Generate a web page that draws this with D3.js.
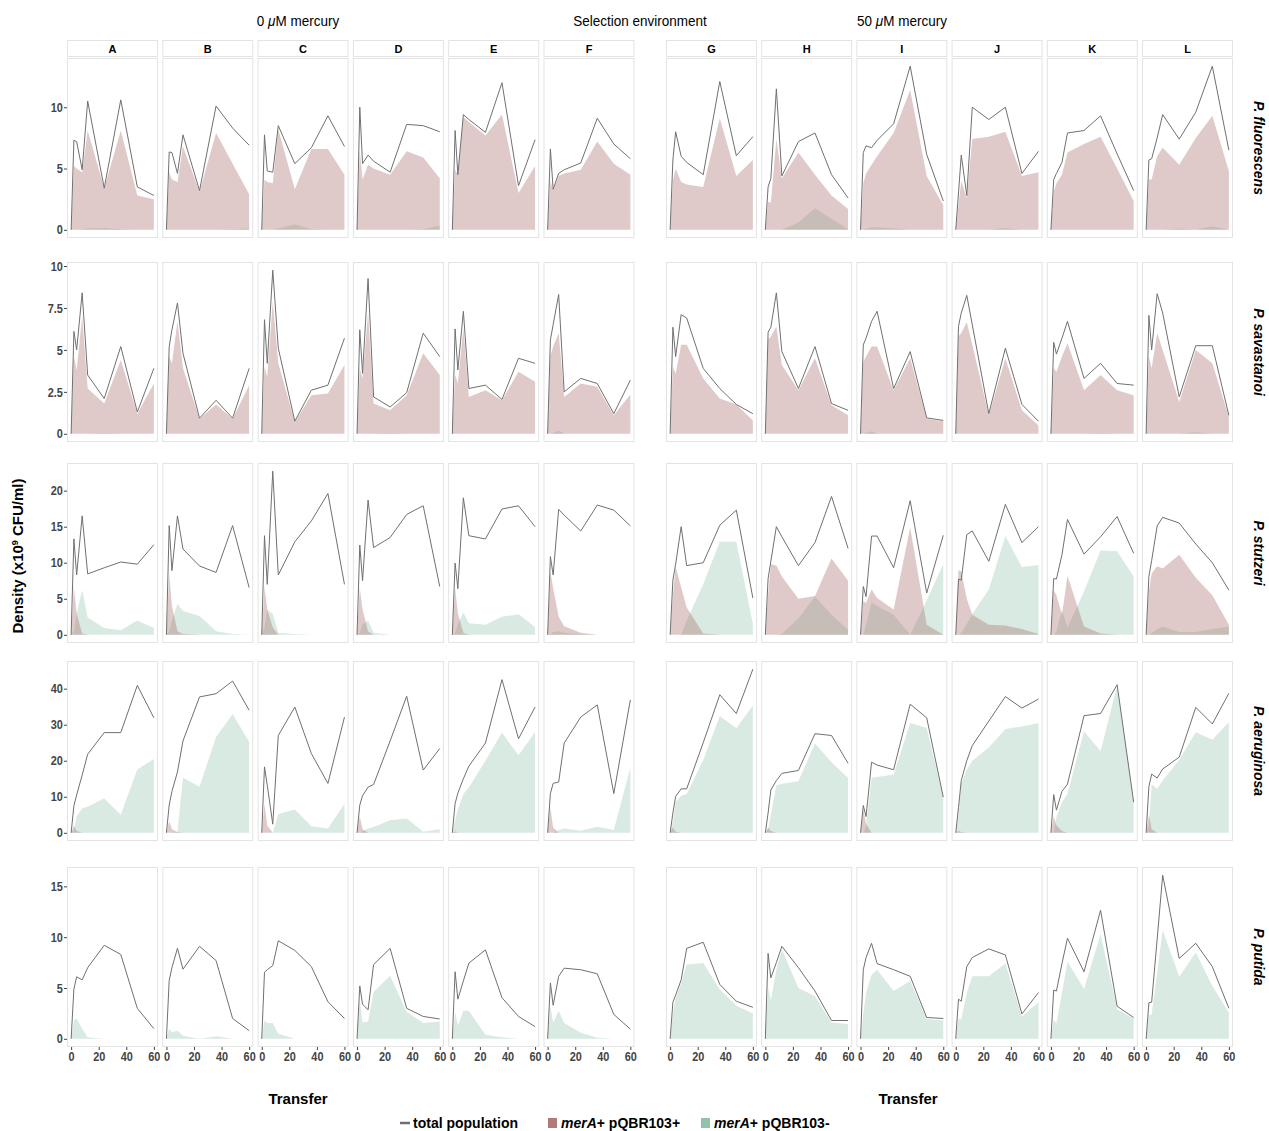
<!DOCTYPE html>
<html>
<head>
<meta charset="utf-8">
<script src="https://cdn.jsdelivr.net/npm/d3@7"></script>
<style>
  body { margin: 0; background: #fff; }
  svg text { font-family: "Liberation Sans", Arial, sans-serif; }
</style>
</head>
<body>
<svg id="chart" width="1269" height="1131"></svg>
<script>
// transfers sampled, same for every panel
const transfers = [0, 2, 4, 8, 12, 24, 36, 48, 60]
const lineIds = ['A', 'B', 'C', 'D', 'E', 'F', 'G', 'H', 'I', 'J', 'K', 'L']
const speciesNames = ['P. fluorescens', 'P. savastanoi', 'P. stutzeri', 'P. aeruginosa', 'P. putida']
const xTickValues = [0, 20, 40, 60]
const yTickValues = [[0, 5, 10], [0, 2.5, 5, 7.5, 10], [0, 5, 10, 15, 20], [0, 10, 20, 30, 40], [0, 5, 10, 15]]

// P. fluorescens
const fluTotal = [
  [0, 7.3, 7.2, 4.9, 10.5, 3.4, 10.6, 3.5, 2.8],
  [0, 6.35, 6.3, 4.6, 7.75, 3.2, 10.1, 8.3, 6.9],
  [0, 7.75, 4.8, 4.7, 8.5, 5.4, 6.7, 9.3, 6.8],
  [0, 10.0, 5.4, 6.1, 5.6, 4.7, 8.6, 8.5, 8.0],
  [0, 8.1, 4.5, 9.4, 9.0, 7.95, 12.0, 3.6, 7.35],
  [0, 6.6, 3.3, 4.6, 4.9, 5.45, 9.1, 7.0, 5.8],
  [0, 5.7, 8.0, 6.0, 5.5, 4.5, 12.1, 6.05, 7.6],
  [0, 3.5, 4.2, 11.5, 4.4, 7.2, 7.9, 4.5, 2.6],
  [0, 6.3, 6.85, 6.7, 7.3, 8.65, 13.35, 6.15, 2.35],
  [0, 3.0, 6.1, 2.8, 10.0, 9.0, 10.0, 4.6, 6.4],
  [0, 4.1, 4.6, 5.5, 7.9, 8.1, 9.3, 6.2, 3.2],
  [0, 5.7, 5.8, 7.5, 9.4, 7.4, 9.6, 13.35, 6.5]
]
const fluPlus = [
  [0, 5.2, 5.0, 4.7, 8.1, 3.4, 8.1, 2.8, 2.5],
  [0, 4.7, 4.1, 3.9, 6.8, 3.1, 7.9, 5.4, 2.9],
  [0, 4.1, 3.9, 3.8, 8.2, 3.3, 6.6, 6.6, 4.5],
  [0, 6.5, 4.1, 5.3, 5.0, 4.5, 6.4, 5.9, 4.2],
  [0, 4.9, 4.5, 9.2, 8.8, 7.7, 9.4, 3.0, 5.2],
  [0, 4.0, 3.2, 4.4, 4.6, 4.9, 7.2, 5.4, 4.5],
  [0, 4.0, 5.0, 3.9, 3.7, 3.5, 9.1, 4.4, 5.7],
  [0, 2.3, 2.2, 7.4, 4.2, 6.3, 4.5, 2.8, 1.7],
  [0, 3.8, 4.6, 5.3, 6.0, 7.9, 11.4, 4.4, 2.0],
  [0, 2.0, 4.0, 2.6, 7.4, 7.6, 8.0, 4.4, 4.7],
  [0, 3.1, 3.8, 4.5, 6.3, 7.0, 7.6, 5.0, 2.35],
  [0, 4.1, 4.1, 6.0, 6.7, 5.3, 7.5, 9.3, 4.8]
]
const fluMinus = [
  [0, 0, 0, 0.05, 0.1, 0.15, 0.05, 0, 0],
  [0, 0, 0, 0, 0, 0, 0, 0.05, 0.1],
  [0, 0, 0, 0, 0.1, 0.45, 0.05, 0, 0],
  [0, 0, 0, 0, 0, 0, 0, 0.05, 0.35],
  [0, 0, 0, 0, 0, 0, 0, 0, 0],
  [0, 0, 0, 0, 0, 0, 0, 0, 0],
  [0, 0, 0, 0, 0, 0, 0, 0, 0],
  [0, 0, 0, 0, 0, 0.6, 1.75, 0.9, 0.05],
  [0, 0, 0.1, 0.2, 0.2, 0.1, 0, 0, 0],
  [0, 0, 0, 0, 0, 0, 0.15, 0, 0],
  [0, 0, 0, 0, 0, 0, 0, 0, 0],
  [0, 0, 0, 0, 0, 0.1, 0, 0.3, 0]
]

// P. savastanoi
const savTotal = [
  [0, 6.1, 5.0, 8.4, 3.5, 2.1, 5.2, 1.3, 3.9],
  [0, 5.2, 6.2, 7.8, 4.8, 0.93, 2.0, 0.93, 3.9],
  [0, 6.8, 4.2, 9.75, 5.1, 0.75, 2.6, 2.9, 5.7],
  [0, 6.2, 3.6, 9.25, 2.2, 1.6, 2.45, 6.0, 4.6],
  [0, 6.25, 3.8, 7.3, 2.7, 2.9, 2.05, 4.5, 4.2],
  [0, 5.6, 6.5, 8.3, 2.5, 3.3, 3.0, 1.2, 3.2],
  [0, 6.35, 4.6, 7.1, 6.9, 3.9, 2.7, 1.75, 1.2],
  [0, 6.05, 6.35, 8.4, 4.9, 2.7, 5.2, 1.8, 1.4],
  [0, 5.3, 5.7, 6.7, 7.3, 2.7, 4.9, 0.95, 0.8],
  [0, 6.4, 7.2, 8.25, 6.5, 1.2, 5.1, 1.75, 0.75],
  [0, 5.45, 4.75, 5.7, 6.7, 3.3, 4.2, 3.0, 2.9],
  [0, 7.05, 5.0, 8.35, 7.2, 2.2, 5.25, 5.25, 1.1]
]
const savPlus = [
  [0, 4.6, 3.8, 7.0, 2.7, 1.8, 4.4, 1.2, 3.0],
  [0, 4.6, 4.2, 6.7, 3.9, 0.9, 1.75, 0.9, 2.9],
  [0, 4.0, 3.4, 7.9, 4.2, 0.7, 2.3, 2.4, 4.1],
  [0, 3.9, 3.3, 7.2, 1.8, 1.4, 2.3, 4.8, 3.5],
  [0, 3.5, 3.0, 6.3, 2.2, 2.6, 2.0, 3.7, 3.1],
  [0, 4.6, 5.2, 6.0, 2.2, 3.0, 2.8, 1.1, 2.35],
  [0, 4.0, 3.6, 5.3, 5.3, 3.3, 2.1, 1.75, 0.8],
  [0, 5.6, 5.8, 6.4, 4.1, 2.6, 4.5, 1.7, 1.1],
  [0, 4.3, 4.6, 5.2, 5.2, 2.6, 4.5, 0.9, 0.75],
  [0, 5.8, 6.0, 6.65, 5.3, 1.1, 4.5, 1.4, 0.5],
  [0, 3.9, 3.7, 4.6, 5.4, 2.6, 3.5, 2.6, 2.3],
  [0, 4.6, 3.9, 6.0, 5.0, 1.9, 5.0, 4.2, 1.0]
]
const savMinus = [
  [0, 0, 0, 0, 0, 0.05, 0, 0, 0],
  [0, 0, 0, 0, 0, 0, 0, 0, 0],
  [0, 0, 0, 0, 0, 0, 0, 0, 0],
  [0, 0, 0, 0, 0, 0.05, 0, 0, 0],
  [0, 0, 0, 0, 0, 0, 0, 0, 0],
  [0, 0, 0.05, 0.2, 0, 0, 0, 0, 0],
  [0, 0, 0, 0, 0, 0, 0, 0, 0],
  [0, 0, 0, 0, 0, 0, 0, 0, 0],
  [0, 0, 0.05, 0.15, 0, 0, 0, 0, 0],
  [0, 0, 0, 0, 0, 0, 0, 0, 0],
  [0, 0, 0, 0, 0, 0, 0.05, 0, 0],
  [0, 0, 0, 0, 0, 0, 0.1, 0, 0]
]

// P. stutzeri
const stuTotal = [
  [0, 13.3, 8.3, 16.5, 8.45, 9.3, 10.1, 9.8, 12.5],
  [0, 15.15, 8.9, 16.5, 11.9, 9.55, 8.65, 15.15, 6.55],
  [0, 13.75, 7.0, 22.7, 8.3, 12.9, 15.8, 19.6, 7.0],
  [0, 12.45, 7.5, 18.7, 12.1, 13.5, 16.7, 17.9, 6.7],
  [0, 9.95, 6.4, 19.0, 13.75, 13.3, 17.45, 17.9, 15.0],
  [0, 10.85, 8.3, 17.4, 16.6, 14.4, 18.0, 17.3, 15.1],
  [0, 7.6, 9.8, 15.0, 9.6, 10.0, 15.2, 17.3, 5.1],
  [0, 7.8, 10.2, 15.0, 13.6, 9.6, 12.8, 19.2, 12.0],
  [0, 6.7, 5.3, 13.7, 13.7, 9.3, 18.6, 5.8, 13.8],
  [0, 7.7, 7.6, 13.9, 14.4, 10.2, 18.1, 12.8, 15.0],
  [0, 7.8, 7.75, 11.1, 16.0, 11.2, 13.6, 16.4, 11.3],
  [0, 8.1, 10.3, 15.1, 16.3, 15.5, 12.6, 10.0, 6.2]
]
const stuPlus = [
  [0, 6.6, 3.0, 0.2, 0, 0, 0, 0, 0],
  [0, 8.5, 4.0, 0.5, 0.1, 0, 0, 0, 0],
  [0, 6.7, 3.5, 1.0, 0, 0, 0, 0, 0],
  [0, 6.5, 3.5, 0.5, 0, 0, 0, 0, 0],
  [0, 6.5, 3.0, 0.3, 0, 0, 0, 0, 0],
  [0, 8.7, 6.5, 2.5, 1.2, 0.3, 0, 0, 0],
  [0, 5.5, 9.4, 6.6, 3.8, 0.2, 0, 0, 0],
  [0, 5.5, 9.8, 9.6, 8.1, 5.0, 5.4, 10.6, 7.5],
  [0, 4.7, 4.4, 6.3, 5.1, 3.5, 14.9, 1.4, 0],
  [0, 9.0, 8.8, 5.0, 2.8, 1.4, 1.3, 0.8, 0.1],
  [0, 6.2, 5.5, 2.8, 8.2, 1.15, 0.2, 0, 0],
  [0, 6.0, 8.5, 9.5, 9.2, 11.1, 7.9, 5.5, 1.4]
]
const stuMinus = [
  [0, 0.5, 3.0, 6.2, 2.4, 0.95, 0.65, 2.0, 0.95],
  [0, 0.5, 2.0, 4.3, 3.3, 2.6, 0.5, 0.1, 0],
  [0, 1.0, 3.5, 2.9, 0.3, 0.1, 0, 0, 0],
  [0, 0.3, 1.5, 2.0, 0.3, 0, 0, 0, 0],
  [0, 0.3, 1.5, 3.1, 1.6, 1.4, 2.5, 2.85, 1.1],
  [0, 0.1, 0.4, 0.5, 0.3, 0.1, 0, 0, 0],
  [0, 0, 0, 0, 2.0, 7.0, 12.9, 12.9, 1.5],
  [0, 0, 0, 0, 0.1, 2.3, 5.3, 2.8, 0.7],
  [0, 0, 1.5, 4.5, 4.0, 2.8, 0, 4.8, 9.8],
  [0, 0, 0.3, 1.5, 2.9, 6.3, 13.7, 9.4, 9.7],
  [0, 0, 0.5, 3.5, 1.0, 6.0, 11.7, 11.6, 8.1],
  [0, 0, 0.3, 0.8, 1.15, 0.4, 0.4, 0.8, 1.15]
]

// P. aeruginosa
const aerTotal = [
  [0, 7.5, 10.5, 16.0, 21.8, 27.8, 27.8, 40.9, 31.9],
  [0, 7.7, 11.5, 16.9, 25.5, 37.7, 38.6, 42.1, 34.0],
  [0, 18.3, 13.2, 2.4, 27.0, 34.9, 22.0, 13.7, 32.1],
  [0, 7.7, 10.3, 12.7, 13.4, 25.5, 37.9, 17.4, 23.4],
  [0, 8.1, 11.0, 15.0, 18.5, 24.9, 42.5, 26.1, 34.9],
  [0, 10.9, 13.7, 14.1, 24.9, 32.1, 35.5, 10.9, 36.9],
  [0, 5.5, 10.1, 12.2, 12.2, 25.0, 38.3, 33.1, 45.4],
  [0, 5.5, 11.9, 14.5, 16.5, 17.3, 27.5, 27.0, 19.3],
  [0, 7.6, 4.5, 19.6, 18.8, 17.5, 35.7, 31.9, 9.9],
  [0, 7.0, 14.5, 20.0, 24.2, 31.0, 37.8, 34.6, 37.1],
  [0, 10.6, 6.3, 11.5, 13.5, 32.5, 33.1, 41.1, 8.5],
  [0, 12.8, 16.3, 15.2, 17.7, 21.0, 34.8, 30.2, 38.7]
]
const aerPlus = [
  [0, 2.0, 0.5, 0, 0, 0, 0, 0, 0],
  [0, 3.2, 1.0, 0.2, 0, 0, 0, 0, 0],
  [0, 8.0, 2.0, 0, 0, 0, 0, 0, 0],
  [0, 4.5, 1.0, 0, 0, 0, 0, 0, 0],
  [0, 0.4, 0, 0, 0, 0, 0, 0, 0],
  [0, 7.0, 1.5, 0, 0, 0, 0, 0, 0],
  [0, 1.5, 0.3, 0, 0, 0, 0, 0, 0],
  [0, 1.5, 0.5, 0, 0, 0, 0, 0, 0],
  [0, 6.5, 2.5, 0, 0, 0, 0, 0, 0],
  [0, 0.6, 0.2, 0, 0, 0, 0, 0, 0],
  [0, 4.5, 2.0, 0.5, 0, 0, 0, 0, 0],
  [0, 5.0, 1.0, 0, 0, 0, 0, 0, 0]
]
const aerMinus = [
  [0, 0.5, 4.5, 6.8, 7.2, 9.6, 5.0, 17.6, 20.5],
  [0, 0, 0, 0.3, 15.3, 12.8, 26.6, 32.9, 25.3],
  [0, 0, 0, 0, 5.2, 6.5, 1.8, 1.2, 8.0],
  [0, 0, 0.5, 1.2, 1.6, 3.5, 4.0, 0.3, 1.0],
  [0, 3.5, 6.5, 10.8, 12.6, 20.0, 27.8, 21.5, 28.0],
  [0, 0, 0, 0.8, 1.2, 0.6, 1.7, 0.8, 18.0],
  [0, 3.0, 8.5, 10.3, 10.8, 20.2, 32.4, 29.0, 35.3],
  [0, 1.0, 5.0, 13.1, 13.6, 14.3, 24.8, 19.6, 15.2],
  [0, 0, 2.0, 15.2, 15.5, 16.2, 30.5, 29.1, 9.9],
  [0, 5.0, 13.6, 17.5, 20.0, 23.7, 28.8, 29.5, 30.5],
  [0, 0, 4.3, 8.5, 10.8, 28.2, 22.6, 40.8, 8.5],
  [0, 2.0, 13.5, 12.2, 14.5, 20.2, 27.9, 25.8, 30.7]
]

// P. putida
const putTotal = [
  [0, 4.9, 6.1, 5.8, 7.0, 9.2, 8.3, 3.0, 1.0],
  [0, 5.75, 7.0, 8.9, 6.85, 9.1, 7.7, 2.0, 0.8],
  [0, 6.55, 6.8, 7.2, 9.65, 8.7, 7.1, 3.65, 2.0],
  [0, 5.2, 3.4, 2.85, 7.3, 8.9, 3.0, 2.2, 1.95],
  [0, 6.6, 3.9, 5.7, 7.45, 8.75, 4.05, 2.2, 1.2],
  [0, 5.5, 3.3, 6.15, 6.95, 6.8, 6.4, 2.4, 0.95],
  [0, 3.6, 4.3, 5.8, 8.9, 9.5, 5.35, 3.7, 3.1],
  [0, 8.4, 6.0, 7.5, 9.1, 7.0, 4.7, 1.8, 1.8],
  [0, 6.8, 8.0, 9.4, 7.4, 6.8, 6.15, 2.1, 2.0],
  [0, 3.9, 3.7, 7.1, 8.0, 8.85, 8.25, 2.45, 4.55],
  [0, 4.8, 4.7, 7.4, 9.9, 6.6, 12.65, 3.2, 2.1],
  [0, 3.55, 3.6, 9.8, 16.1, 7.9, 9.4, 7.1, 3.0]
]
const putPlus = lineIds.map(() => [0, 0, 0, 0, 0, 0, 0, 0, 0])
const putMinus = [
  [0, 1.8, 2.0, 1.0, 0.15, 0, 0, 0, 0],
  [0, 1.0, 0.65, 0.8, 0.3, 0, 0.25, 0, 0],
  [0, 1.8, 1.55, 1.55, 0.5, 0, 0, 0, 0],
  [0, 3.9, 1.6, 1.7, 4.6, 6.2, 2.65, 1.55, 1.7],
  [0, 2.7, 1.3, 2.75, 2.75, 0.4, 0.15, 0, 0],
  [0, 3.2, 1.6, 2.75, 1.55, 0.6, 0.1, 0, 0],
  [0, 2.5, 4.0, 5.5, 7.3, 7.45, 4.85, 3.25, 2.5],
  [0, 5.0, 3.8, 6.8, 8.8, 5.0, 4.2, 1.6, 1.45],
  [0, 2.5, 4.5, 6.3, 6.8, 4.7, 5.7, 1.95, 1.8],
  [0, 2.0, 1.9, 4.5, 6.15, 6.15, 7.4, 2.2, 3.6],
  [0, 1.9, 1.5, 4.5, 7.6, 4.9, 10.3, 2.9, 2.0],
  [0, 2.3, 2.4, 6.5, 10.7, 6.1, 8.5, 5.2, 2.6]
]

const totals = [fluTotal, savTotal, stuTotal, aerTotal, putTotal]
const plusSeries = [fluPlus, savPlus, stuPlus, aerPlus, putPlus]
const minusSeries = [fluMinus, savMinus, stuMinus, aerMinus, putMinus]

const colPlus = '#b07a78'
const colMinus = '#8fc4aa'
const colLine = '#707070'

const svg = d3.select('#chart')
const panelW = 91, panelH = 180
const colX = i => i < 6 ? 67 + i * 95.3 : 666 + (i - 6) * 95.2
const rowY = [58, 262, 463, 661, 867]

const x = d3.scaleLinear().domain([-3, 63]).range([0, panelW])

// condensed look for tick labels (no narrow font installed)
const styleTicks = ax => {
  ax.select('.domain').remove()
  ax.selectAll('line').attr('stroke', '#444')
  ax.selectAll('text').attr('fill', '#444').style('font-size', '13px').style('font-weight', 'bold')
    .attr('transform', 'scale(0.84,1)')
}

// column strips
lineIds.forEach((id, c) => {
  const g = svg.append('g').attr('transform', `translate(${colX(c)},40)`)
  g.append('rect').attr('x', 0.5).attr('y', 0.5).attr('width', panelW - 1).attr('height', 16)
    .attr('fill', '#fff').attr('stroke', '#e3e3e3')
  g.append('text').attr('x', panelW / 2).attr('y', 12.5).attr('text-anchor', 'middle')
    .style('font-size', '11px').style('font-weight', 'bold').text(id)
})

totals.forEach((rowTotals, r) => {
  const rowMax = d3.max([].concat(...rowTotals, ...plusSeries[r], ...minusSeries[r]))
  const pad = rowMax * 0.05
  const y = d3.scaleLinear().domain([-pad, rowMax + pad]).range([panelH, 0])

  const area = d3.area().x((d, i) => x(transfers[i])).y0(y(0)).y1(d => y(d))
  const line = d3.line().x((d, i) => x(transfers[i])).y(d => y(d))

  lineIds.forEach((id, c) => {
    const g = svg.append('g').attr('transform', `translate(${colX(c)},${rowY[r]})`)
    g.append('path').datum(minusSeries[r][c]).attr('d', area)
      .attr('fill', colMinus).attr('fill-opacity', 0.35)
    g.append('path').datum(plusSeries[r][c]).attr('d', area)
      .attr('fill', colPlus).attr('fill-opacity', 0.4)
    g.append('path').datum(rowTotals[c]).attr('d', line)
      .attr('fill', 'none').attr('stroke', colLine).attr('stroke-width', 1)
    g.append('rect').attr('x', 0.5).attr('y', 0.5).attr('width', panelW - 1).attr('height', panelH - 1)
      .attr('fill', 'none').attr('stroke', '#e3e3e3')

    if (c === 0) {
      g.append('g')
        .call(d3.axisLeft(y).tickValues(yTickValues[r]).tickFormat(d => d).tickSize(3).tickPadding(2))
        .call(styleTicks)
    }
    if (r === totals.length - 1) {
      g.append('g').attr('transform', `translate(0,${panelH})`)
        .call(d3.axisBottom(x).tickValues(xTickValues).tickFormat(d => d).tickSize(3).tickPadding(2))
        .call(styleTicks)
    }
  })

  // species label on the right
  svg.append('text')
    .attr('transform', `translate(1254,${rowY[r] + panelH / 2}) rotate(90)`)
    .attr('text-anchor', 'middle')
    .style('font-size', '14px').style('font-weight', 'bold').style('font-style', 'italic')
    .text(speciesNames[r])
})

// header titles
const head = (tx, parts) => {
  const t = svg.append('text').attr('transform', `translate(${tx},26) scale(0.9,1)`)
    .attr('text-anchor', 'middle').style('font-size', '15px')
  parts.forEach(p => t.append('tspan').style('font-style', p[1] ? 'italic' : 'normal').text(p[0]))
}
head(298, [['0 ', 0], ['\u03bc', 1], ['M mercury', 0]])
head(640, [['Selection environment', 0]])
head(902, [['50 ', 0], ['\u03bc', 1], ['M mercury', 0]])

// axis titles
svg.append('text').attr('transform', 'translate(23,556) rotate(-90)').attr('text-anchor', 'middle')
  .style('font-size', '15px').style('font-weight', 'bold')
  .call(t => {
    t.append('tspan').text('Density (x10')
    t.append('tspan').attr('dy', -5).style('font-size', '9px').text('9')
    t.append('tspan').attr('dy', 5).text(' CFU/ml)')
  })
svg.append('text').attr('x', 298).attr('y', 1104).attr('text-anchor', 'middle')
  .style('font-size', '15px').style('font-weight', 'bold').text('Transfer')
svg.append('text').attr('x', 908).attr('y', 1104).attr('text-anchor', 'middle')
  .style('font-size', '15px').style('font-weight', 'bold').text('Transfer')

// legend
const leg = svg.append('g').attr('transform', 'translate(0,1123)')
leg.append('line').attr('x1', 400).attr('x2', 410).attr('y1', 0).attr('y2', 0)
  .attr('stroke', colLine).attr('stroke-width', 2.5)
leg.append('text').attr('x', 413).attr('y', 5).style('font-size', '14px').style('font-weight', 'bold')
  .text('total population')
const legItems = [[colPlus, 548, 'pQBR103+'], [colMinus, 701, 'pQBR103-']]
legItems.forEach(([col, lx, lab]) => {
  leg.append('rect').attr('x', lx).attr('y', -5).attr('width', 9).attr('height', 10).attr('fill', col)
  const t = leg.append('text').attr('x', lx + 13).attr('y', 5).style('font-size', '14px').style('font-weight', 'bold')
  t.append('tspan').style('font-style', 'italic').text('merA')
  t.append('tspan').text('+ ' + lab)
})
</script>
</body>
</html>
